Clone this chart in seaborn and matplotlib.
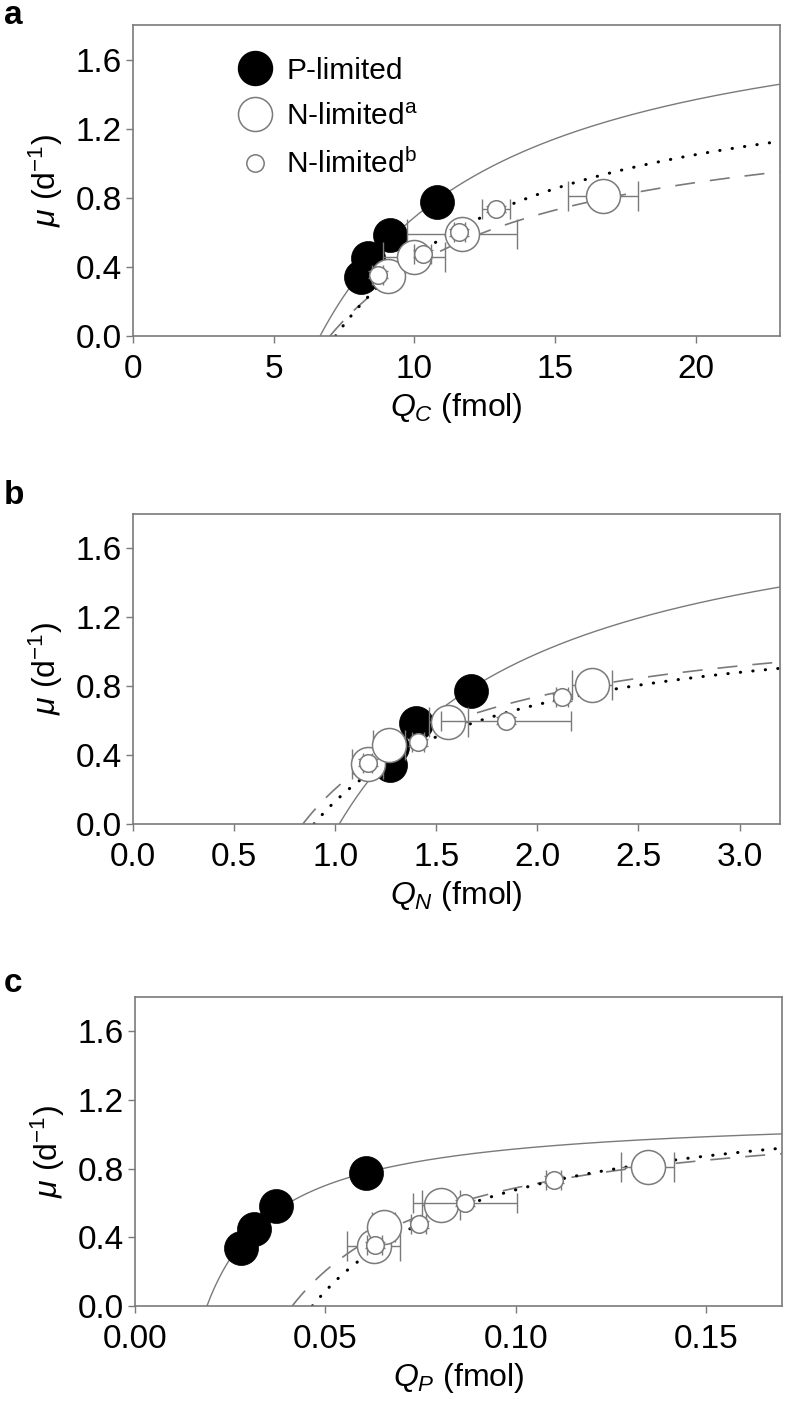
import numpy as np
import pandas as pd
import matplotlib
matplotlib.use('Agg')
import matplotlib.pyplot as plt
from matplotlib.lines import Line2D
import seaborn as sns

# growth rates (same cultures in every panel)
mu_p = [0.34, 0.45, 0.585, 0.775]
mu_na = [0.35, 0.46, 0.59, 0.81]
mu_nb = [0.355, 0.475, 0.60, 0.735]
mu_p_err = [0.03, 0.03, 0.04, 0.04]
mu_na_err = [0.04, 0.04, 0.04, 0.05]
mu_nb_err = [0.02, 0.02, 0.02, 0.02]

# panel a: cell carbon quota
qc_p = [8.1, 8.35, 9.15, 10.8]
qc_na = [9.05, 10.0, 11.7, 16.7]
qc_nb = [8.7, 10.3, 11.6, 12.9]
qc_p_err = [0.2, 0.2, 0.2, 0.2]
qc_na_err = [0.3, 1.1, 1.95, 1.25]
qc_nb_err = [0.2, 0.3, 0.2, 0.5]

# panel b: cell nitrogen quota
qn_p = [1.27, 1.28, 1.40, 1.67]
qn_na = [1.16, 1.265, 1.56, 2.27]
qn_nb = [1.16, 1.41, 1.845, 2.12]
qn_p_err = [0.03, 0.03, 0.03, 0.03]
qn_na_err = [0.075, 0.08, 0.095, 0.10]
qn_nb_err = [0.02, 0.03, 0.32, 0.03]

# panel c: cell phosphorus quota
qp_p = [0.0279, 0.0313, 0.0371, 0.0608]
qp_na = [0.0627, 0.0653, 0.0803, 0.1347]
qp_nb = [0.063, 0.0745, 0.0868, 0.110]
qp_p_err = [0.001, 0.001, 0.001, 0.001]
qp_na_err = [0.007, 0.003, 0.005, 0.007]
qp_nb_err = [0.002, 0.002, 0.0137, 0.002]

# Droop fits: order P-limited, N-limited a, N-limited b
qmin_c = [6.65, 7.0, 7.2]
muinf_c = [2.05, 1.366, 1.64]
qmin_n = [1.02, 0.84, 0.895]
muinf_n = [2.02, 1.275, 1.255]
qmin_p = [0.0189, 0.0413, 0.0466]
muinf_p = [1.128, 1.172, 1.267]

sns.set_style('white')
plt.rcParams['font.family'] = ['Liberation Sans', 'DejaVu Sans']
plt.rcParams['mathtext.fontset'] = 'custom'
plt.rcParams['mathtext.rm'] = 'Liberation Sans'
plt.rcParams['mathtext.it'] = 'Liberation Sans:italic'
plt.rcParams['mathtext.bf'] = 'Liberation Sans:bold'
plt.rcParams['text.color'] = 'black'
plt.rcParams['axes.labelcolor'] = 'black'
plt.rcParams['xtick.color'] = 'black'
plt.rcParams['ytick.color'] = 'black'

grey = '#7a7a7a'
big = 600
small = 160

fig = plt.figure(figsize=(7.85, 14.21), dpi=100)
H = 1421.0
W = 785.0


def make_ax(l, r, t, b):
    return fig.add_axes([l / W, 1 - b / H, (r - l) / W, (b - t) / H])


def panel(ax, q_p, q_na, q_nb, e_p, e_na, e_nb, qmin, muinf, xmax, xticks, xfmt, xlabel):
    styles = [
        dict(color=grey, lw=1.0, linestyle='-'),
        dict(color=grey, lw=1.2, linestyle=(0, (12, 9))),
        dict(color='black', lw=2.2, linestyle=(0, (0.1, 4.0)), dash_capstyle='round'),
    ]
    for i in range(3):
        qq = np.linspace(qmin[i], xmax, 300)
        curve = pd.DataFrame({'q': qq, 'mu': muinf[i] * (1 - qmin[i] / qq)})
        sns.lineplot(data=curve, x='q', y='mu', ax=ax, sort=False, estimator=None,
                     zorder=2, **styles[i])

    ax.errorbar(q_p, mu_p, xerr=e_p, yerr=mu_p_err, fmt='none', ecolor=grey,
                elinewidth=1, capsize=5, capthick=1, zorder=3)
    sns.scatterplot(x=q_p, y=mu_p, ax=ax, s=big, color='black', edgecolor='black',
                    linewidth=0.5, zorder=4)
    ax.errorbar(q_na, mu_na, xerr=e_na, yerr=mu_na_err, fmt='none', ecolor=grey,
                elinewidth=1, capsize=11, capthick=1, zorder=5)
    sns.scatterplot(x=q_na, y=mu_na, ax=ax, s=big, color='white', edgecolor=grey,
                    linewidth=1.1, zorder=6)
    ax.errorbar(q_nb, mu_nb, xerr=e_nb, yerr=mu_nb_err, fmt='none', ecolor=grey,
                elinewidth=1, capsize=7, capthick=1, zorder=7)
    sns.scatterplot(x=q_nb, y=mu_nb, ax=ax, s=small, color='white', edgecolor=grey,
                    linewidth=1.1, zorder=8)

    ax.set_xlim(0, xmax)
    ax.set_ylim(0, 1.8)
    ax.set_xticks(xticks)
    ax.set_xticklabels([xfmt.format(v) for v in xticks])
    ax.set_yticks([0.0, 0.4, 0.8, 1.2, 1.6])
    ax.set_yticklabels(['0.0', '0.4', '0.8', '1.2', '1.6'])
    ax.set_xlabel(xlabel, fontsize=23, labelpad=4)
    ax.set_ylabel(r'$\mu$ (d$^{-1}$)', fontsize=23, labelpad=8)
    for s in ax.spines.values():
        s.set_color(grey)
        s.set_linewidth(1.2)
        s.set_visible(True)
    ax.tick_params(axis='both', which='major', labelsize=24, direction='out',
                   length=5, width=1, color=grey, left=True, bottom=True,
                   top=False, right=False, pad=3)
    ax.tick_params(axis='x', pad=8)


ax_a = make_ax(133, 780, 25, 336)
ax_b = make_ax(133, 780, 514, 824)
ax_c = make_ax(135, 782, 997, 1306)

panel(ax_a, qc_p, qc_na, qc_nb, qc_p_err, qc_na_err, qc_nb_err, qmin_c, muinf_c,
      23.0, [0, 5, 10, 15, 20], '{:d}', r'$Q_C$ (fmol)')
panel(ax_b, qn_p, qn_na, qn_nb, qn_p_err, qn_na_err, qn_nb_err, qmin_n, muinf_n,
      3.2, [0.0, 0.5, 1.0, 1.5, 2.0, 2.5, 3.0], '{:.1f}', r'$Q_N$ (fmol)')
panel(ax_c, qp_p, qp_na, qp_nb, qp_p_err, qp_na_err, qp_nb_err, qmin_p, muinf_p,
      0.17, [0.00, 0.05, 0.10, 0.15], '{:.2f}', r'$Q_P$ (fmol)')

handles = [
    Line2D([], [], ls='none', marker='o', markersize=24.5, markerfacecolor='black',
           markeredgecolor='black'),
    Line2D([], [], ls='none', marker='o', markersize=24.5, markerfacecolor='white',
           markeredgecolor=grey, markeredgewidth=1.1),
    Line2D([], [], ls='none', marker='o', markersize=12.5, markerfacecolor='white',
           markeredgecolor=grey, markeredgewidth=1.1),
]
labels = ['P-limited', r'N-limited$^\mathrm{a}$', r'N-limited$^\mathrm{b}$']
ax_a.legend(handles, labels, loc='upper left', bbox_to_anchor=(0.11, 0.965),
            frameon=False, fontsize=21.5, labelspacing=0.6, handletextpad=0.05,
            borderpad=0.2)

for letter, ypx in [('a', 15), ('b', 495), ('c', 983)]:
    fig.text(4 / W, 1 - ypx / H, letter, fontsize=24, fontweight='bold',
             va='center', ha='left')

fig.savefig('out.png', dpi=100)
